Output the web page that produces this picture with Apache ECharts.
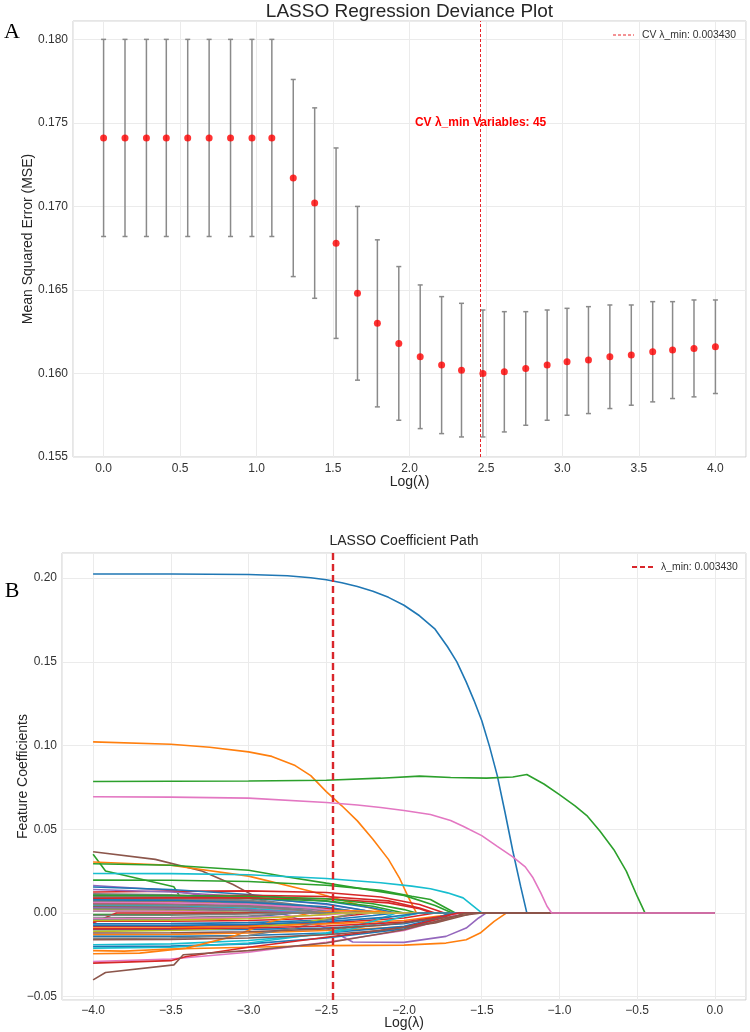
<!DOCTYPE html>
<html><head><meta charset="utf-8">
<script src="https://cdn.jsdelivr.net/npm/echarts@6/dist/echarts.min.js"></script>
<style>html,body{margin:0;padding:0;background:#fff}#c{width:750px;height:1032px}</style>
</head><body><div id="c"></div>
<script>
// ---------- Panel A data (CV deviance) ----------
const cvLogLambda = [0.00,0.14,0.28,0.41,0.55,0.69,0.83,0.97,1.10,1.24,1.38,1.52,1.66,1.79,1.93,2.07,2.21,2.34,2.48,2.62,2.76,2.90,3.03,3.17,3.31,3.45,3.59,3.72,3.86,4.00];
const cvMse = [0.1741,0.1741,0.1741,0.1741,0.1741,0.1741,0.1741,0.1741,0.1741,0.1717,0.1702,0.1678,0.1648,0.1630,0.1618,0.1610,0.1605,0.1602,0.1600,0.1601,0.1603,0.1605,0.1607,0.1608,0.1610,0.1611,0.1613,0.1614,0.1615,0.1616];
const cvErr = [0.0059,0.0059,0.0059,0.0059,0.0059,0.0059,0.0059,0.0059,0.0059,0.0059,0.0057,0.0057,0.0052,0.0050,0.0046,0.0043,0.0041,0.0040,0.0038,0.0036,0.0034,0.0033,0.0032,0.0032,0.0031,0.0030,0.0030,0.0029,0.0029,0.0028];
const lambdaMin = 0.003430;
const cvVariables = 45;
const cvTextY = 0.175;

// ---------- Panel B data (coefficient paths: [log(lambda), coefficient]) ----------
const pathBlue = [[-4,0.2025],[-3.5,0.2025],[-3.0,0.2022],[-2.75,0.2014],[-2.6,0.2002],[-2.5,0.1990],[-2.4,0.1972],[-2.3,0.1950],[-2.2,0.1922],[-2.1,0.1885],[-2.0,0.1838],[-1.9,0.1775],[-1.8,0.1695],[-1.72,0.1590],[-1.66,0.1500],[-1.6,0.1380],[-1.55,0.1270],[-1.5,0.1150],[-1.45,0.0995],[-1.4,0.0820],[-1.35,0.0600],[-1.3,0.0370],[-1.25,0.0160],[-1.21,0],[0,0]];
const pathOrange = [[-4,0.1022],[-3.5,0.1008],[-3.25,0.0990],[-3.0,0.0962],[-2.85,0.0935],[-2.7,0.0880],[-2.6,0.0820],[-2.5,0.0725],[-2.4,0.0640],[-2.3,0.0550],[-2.2,0.0440],[-2.1,0.0320],[-2.03,0.0210],[-1.97,0.0090],[-1.92,0],[0,0]];
const pathGreen = [[-4,0.0785],[-3.0,0.0788],[-2.5,0.0793],[-2.15,0.0805],[-1.9,0.0817],[-1.7,0.0809],[-1.47,0.0805],[-1.3,0.0812],[-1.21,0.0827],[-1.1,0.0770],[-1.0,0.0707],[-0.9,0.0640],[-0.82,0.0578],[-0.74,0.0490],[-0.65,0.0378],[-0.57,0.0250],[-0.5,0.0100],[-0.45,0],[0,0]];
const pathPink = [[-4,0.0694],[-3.5,0.0692],[-3.0,0.0686],[-2.5,0.0660],[-2.3,0.0645],[-2.15,0.0630],[-2.0,0.0612],[-1.83,0.0588],[-1.7,0.0552],[-1.62,0.0518],[-1.5,0.0462],[-1.4,0.0398],[-1.3,0.0335],[-1.22,0.0275],[-1.17,0.0210],[-1.12,0.0120],[-1.08,0.0040],[-1.05,0],[0,0]];

const upperPaths = [
  [[-4,0.0366],[-3.6,0.032],[-3.3,0.025],[-3.1,0.017],[-3.0,0.012],[-2.84,0.004],[-2.7,0],[0,0]],
  [[-4,0.035],[-3.92,0.025],[-3.48,0.0156],[-3.43,0.008],[-3.38,0.002],[-3.3,0],[0,0]],
  [[-4,0.0304],[-3.5,0.0285],[-3.0,0.022],[-2.6,0.013],[-2.3,0.005],[-2.1,0],[0,0]],
  [[-4,0.0294],[-3.5,0.0285],[-3.0,0.0255],[-2.75,0.0215],[-2.5,0.0178],[-2.0,0.0105],[-1.8,0.0045],[-1.69,0],[0,0]],
  [[-4,0.0236],[-3.5,0.0235],[-3.0,0.0228],[-2.5,0.0206],[-2.15,0.018],[-1.95,0.016],[-1.83,0.0145],[-1.72,0.0120],[-1.62,0.009],[-1.5,0],[0,0]],
  [[-4,0.0196],[-3.5,0.0195],[-3.0,0.0188],[-2.5,0.0165],[-2.15,0.0135],[-1.95,0.0100],[-1.83,0.008],[-1.67,0],[0,0]],
  [[-4,0.0164],[-3.5,0.0135],[-3.0,0.006],[-2.8,0],[-2.5,-0.009],[-2.33,-0.0174],[-2.0,-0.0176],[-1.73,-0.014],[-1.6,-0.009],[-1.52,-0.003],[-1.47,0],[0,0]],
  [[-4,0.0125],[-3.5,0.0130],[-3.0,0.0132],[-2.5,0.0122],[-2.15,0.0095],[-1.9,0.005],[-1.74,0],[0,0]],
  [[-4,0.0155],[-3.5,0.0140],[-3.0,0.0110],[-2.5,0.0070],[-2.2,0.0030],[-2.05,0],[0,0]],
  [[-4,0.0140],[-3.5,0.0125],[-3.0,0.0095],[-2.5,0.0050],[-2.25,0.0015],[-2.15,0],[0,0]],
  [[-4,0.0115],[-3.5,0.0108],[-3.0,0.0085],[-2.6,0.0040],[-2.35,0],[0,0]],
  [[-4,0.0105],[-3.5,0.0102],[-3.0,0.0090],[-2.5,0.0055],[-2.25,0.0015],[-2.15,0],[0,0]],
  [[-4,0.0100],[-3.5,0.0103],[-3.0,0.0105],[-2.5,0.0098],[-2.1,0.0072],[-1.9,0.0030],[-1.8,0],[0,0]],
  [[-4,0.0095],[-3.5,0.0088],[-3.0,0.0065],[-2.7,0.0030],[-2.5,0],[0,0]],
  [[-4,0.0090],[-3.5,0.0092],[-3.0,0.0088],[-2.5,0.0072],[-2.2,0.0040],[-2.0,0],[0,0]],
  [[-4,0.0085],[-3.5,0.0080],[-3.0,0.0065],[-2.6,0.0035],[-2.3,0],[0,0]],
  [[-4,0.0080],[-3.5,0.0076],[-3.0,0.0060],[-2.7,0.0030],[-2.45,0],[0,0]],
  [[-4,0.0075],[-3.5,0.0070],[-3.0,0.0052],[-2.75,0.0025],[-2.55,0],[0,0]],
  [[-4,0.0070],[-3.5,0.0068],[-3.0,0.0058],[-2.6,0.0030],[-2.35,0],[0,0]],
  [[-4,0.0065],[-3.5,0.0062],[-3.0,0.0050],[-2.6,0.0025],[-2.3,0],[0,0]],
  [[-4,0.0060],[-3.5,0.0055],[-3.0,0.0040],[-2.8,0.0020],[-2.6,0],[0,0]],
  [[-4,0.0055],[-3.5,0.0054],[-3.0,0.0048],[-2.5,0.0028],[-2.2,0],[0,0]],
  [[-4,0.0050],[-3.5,0.0047],[-3.0,0.0035],[-2.7,0.0015],[-2.5,0],[0,0]],
  [[-4,0.0045],[-3.5,0.0041],[-3.0,0.0028],[-2.6,0],[0,0]],
  [[-4,0.0040],[-3.5,0.0036],[-3.0,0.0022],[-2.7,0],[0,0]],
  [[-4,0.0035],[-3.5,0.0030],[-3.0,0.0015],[-2.8,0],[0,0]],
  [[-4,0.0030],[-3.5,0.0028],[-3.0,0.0018],[-2.6,0],[0,0]],
  [[-4,0.0020],[-3.5,0.0016],[-3.1,0.0005],[-2.9,0],[0,0]],
  [[-4,0.0010],[-3.5,0.0008],[-3.0,0],[0,0]],
  [[-4,0.0110],[-3.5,0.0098],[-3.0,0.0075],[-2.6,0.0035],[-2.4,0],[0,0]],
  [[-4,0.0086],[-3.5,0.0078],[-3.0,0.0058],[-2.6,0.0025],[-2.45,0],[0,0]],
  [[-4,0.0068],[-3.5,0.0062],[-3.0,0.0045],[-2.65,0.0018],[-2.5,0],[0,0]],
  [[-4,0.0101],[-3.5,0.0094],[-3.0,0.0072],[-2.6,0.0030],[-2.4,0],[0,0]],
  [[-4,0.0092],[-3.5,0.0086],[-3.0,0.0066],[-2.6,0.0028],[-2.42,0],[0,0]],
  [[-4,0.0078],[-3.5,0.0075],[-3.0,0.0064],[-2.5,0.0036],[-2.25,0],[0,0]],
  [[-4,0.0062],[-3.5,0.0060],[-3.0,0.0052],[-2.6,0.0030],[-2.3,0],[0,0]],
  [[-4,0.0088],[-3.5,0.0090],[-3.0,0.0091],[-2.5,0.0085],[-2.1,0.0060],[-1.9,0.0025],[-1.82,0],[0,0]],
  [[-4,0.0105],[-3.5,0.0104],[-3.0,0.0100],[-2.5,0.0085],[-2.2,0.0055],[-2.0,0.0020],[-1.92,0],[0,0]],
  [[-4,0.0052],[-3.5,0.0049],[-3.0,0.0038],[-2.7,0.0018],[-2.5,0],[0,0]],
  [[-4,0.0025],[-3.5,0.0022],[-3.0,0.0012],[-2.75,0],[0,0]],
  [[-4,0.0012],[-3.5,0.0010],[-3.2,0.0004],[-3.0,0],[0,0]]
];
const upperColors = [5,2,1,2,9,2,4,3,0,4,7,0,3,7,2,0,6,7,1,0,8,3,6,9,7,5,4,8,2,7,7,7,7,7,0,6,3,2,7,7,6];

const lowerPaths = [
  [[-4,-0.0010],[-3.5,-0.0008],[-3.0,0],[0,0]],
  [[-4,-0.0060],[-3.9,-0.0020],[-3.85,0],[0,0]],
  [[-4,-0.0040],[-3.5,-0.0038],[-3.0,-0.0025],[-2.7,0],[0,0]],
  [[-4,-0.0050],[-3.5,-0.0050],[-3.0,-0.0045],[-2.5,-0.0030],[-2.2,0],[0,0]],
  [[-4,-0.0065],[-3.5,-0.0064],[-3.0,-0.0058],[-2.5,-0.0042],[-2.2,-0.0015],[-2.05,0],[0,0]],
  [[-4,-0.0080],[-3.5,-0.0080],[-3.0,-0.0075],[-2.5,-0.0060],[-2.0,-0.0030],[-1.8,0],[0,0]],
  [[-4,-0.0090],[-3.5,-0.0088],[-3.0,-0.0080],[-2.5,-0.0065],[-2.0,-0.0045],[-1.75,-0.0015],[-1.65,0],[0,0]],
  [[-4,-0.0100],[-3.5,-0.0100],[-3.0,-0.0098],[-2.5,-0.0090],[-2.0,-0.0065],[-1.8,-0.0030],[-1.68,0],[0,0]],
  [[-4,-0.0110],[-3.5,-0.0105],[-3.0,-0.0090],[-2.6,-0.0050],[-2.3,0],[0,0]],
  [[-4,-0.0130],[-3.5,-0.0128],[-3.0,-0.0120],[-2.5,-0.0105],[-2.0,-0.0085],[-1.75,-0.0045],[-1.6,0],[0,0]],
  [[-4,-0.0140],[-3.5,-0.0140],[-3.0,-0.0135],[-2.5,-0.0120],[-2.0,-0.0080],[-1.8,-0.0035],[-1.7,0],[0,0]],
  [[-4,-0.0152],[-3.5,-0.0150],[-3.0,-0.0135],[-2.7,-0.0090],[-2.45,-0.0030],[-2.3,0],[0,0]],
  [[-4,-0.0190],[-3.5,-0.0185],[-3.0,-0.0165],[-2.5,-0.0125],[-2.2,-0.0070],[-2.0,-0.0020],[-1.9,0],[0,0]],
  [[-4,-0.0200],[-3.5,-0.0198],[-3.0,-0.0185],[-2.5,-0.0150],[-2.0,-0.0095],[-1.8,-0.0040],[-1.7,0],[0,0]],
  [[-4,-0.0210],[-3.5,-0.0205],[-3.0,-0.0180],[-2.5,-0.0120],[-2.2,-0.0050],[-2.05,0],[0,0]],
  [[-4,-0.0225],[-3.8,-0.0228],[-3.5,-0.0215],[-3.0,-0.0205],[-2.5,-0.0195],[-2.0,-0.0192],[-1.73,-0.0180],[-1.6,-0.0160],[-1.51,-0.0120],[-1.42,-0.0050],[-1.34,0],[0,0]],
  [[-4,-0.0244],[-3.7,-0.0240],[-3.4,-0.0210],[-3.1,-0.0140],[-2.85,-0.0050],[-2.6,0],[-2.4,0.0015],[-2.2,0.0010],[-2.05,0],[0,0]],
  [[-4,-0.0290],[-3.5,-0.0275],[-3.0,-0.0235],[-2.5,-0.0175],[-2.0,-0.0105],[-1.75,-0.0040],[-1.65,0],[0,0]],
  [[-4,-0.0300],[-3.5,-0.0285],[-3.4,-0.0260],[-3.0,-0.0205],[-2.5,-0.0145],[-2.0,-0.0085],[-1.75,-0.0030],[-1.68,0],[0,0]],
  [[-4,-0.0015],[-3.5,-0.0013],[-3.0,-0.0006],[-2.8,0],[0,0]],
  [[-4,-0.0030],[-3.5,-0.0028],[-3.0,-0.0018],[-2.7,0],[0,0]],
  [[-4,-0.0035],[-3.5,-0.0034],[-3.0,-0.0028],[-2.5,-0.0012],[-2.35,0],[0,0]],
  [[-4,-0.0045],[-3.5,-0.0043],[-3.0,-0.0035],[-2.6,-0.0015],[-2.4,0],[0,0]],
  [[-4,-0.0075],[-3.5,-0.0074],[-3.0,-0.0068],[-2.5,-0.0052],[-2.1,-0.0025],[-1.9,0],[0,0]],
  [[-4,-0.0095],[-3.5,-0.0094],[-3.0,-0.0090],[-2.5,-0.0078],[-2.0,-0.0055],[-1.75,-0.0020],[-1.65,0],[0,0]],
  [[-4,-0.0160],[-3.5,-0.0158],[-3.0,-0.0150],[-2.5,-0.0130],[-2.15,-0.0105],[-1.8,-0.0060],[-1.55,0],[0,0]],
  [[-4,-0.0400],[-3.92,-0.0356],[-3.48,-0.0310],[-3.42,-0.0250],[-3.0,-0.0225],[-2.5,-0.0180],[-2.0,-0.0100],[-1.75,-0.0040],[-1.6,0],[0,0]],
  [[-4,-0.0120],[-3.5,-0.0118],[-3.0,-0.0112],[-2.5,-0.0095],[-2.15,-0.0075],[-1.8,-0.0035],[-1.5,0],[0,0]]
];
const lowerColors = [2,3,0,3,0,3,1,0,8,1,0,7,9,0,9,1,1,6,3,7,7,6,8,0,3,5,5,5];

const tab10 = ['#1f77b4','#ff7f0e','#2ca02c','#d62728','#9467bd','#8c564b','#e377c2','#7f7f7f','#bcbd22','#17becf'];

// ---------- chart ----------
const FONT = '"Liberation Sans", Arial, sans-serif';
const TXT = '#262626';
const chart = echarts.init(document.getElementById('c'), null, {renderer: 'canvas'});

const cvLineX = -Math.log10(lambdaMin);
const errData = cvLogLambda.map((x, i) => [x, cvMse[i] - cvErr[i], cvMse[i] + cvErr[i]]);
const dotData = cvLogLambda.map((x, i) => [x, cvMse[i]]);

function fmt(step, dec) {
  return function (v) {
    const k = v / step;
    if (Math.abs(k - Math.round(k)) > 1e-6) return '';
    return v.toFixed(dec).replace('-', '\u2212');
  };
}

function lineSeries(data, color) {
  return {
    type: 'line', xAxisIndex: 1, yAxisIndex: 1, data: data,
    showSymbol: false, symbol: 'none', smooth: false,
    lineStyle: {width: 1.6, color: color}, itemStyle: {color: color},
    silent: true, animation: false
  };
}

const series = [
  {
    type: 'custom', xAxisIndex: 0, yAxisIndex: 0, data: errData, silent: true,
    encode: {x: 0, y: [1, 2]},
    renderItem: function (params, api) {
      const x = api.value(0);
      const lo = api.coord([x, api.value(1)]);
      const hi = api.coord([x, api.value(2)]);
      const st = {stroke: '#8a8a8a', lineWidth: 1.5};
      const cap = 2.5;
      return {type: 'group', children: [
        {type: 'line', shape: {x1: lo[0], y1: lo[1], x2: hi[0], y2: hi[1]}, style: st},
        {type: 'line', shape: {x1: lo[0] - cap, y1: lo[1], x2: lo[0] + cap, y2: lo[1]}, style: st},
        {type: 'line', shape: {x1: hi[0] - cap, y1: hi[1], x2: hi[0] + cap, y2: hi[1]}, style: st}
      ]};
    }
  },
  {
    type: 'scatter', xAxisIndex: 0, yAxisIndex: 0, data: dotData, symbolSize: 7, z: 4,
    itemStyle: {color: '#ff0000'}, silent: true,
    markLine: {
      silent: true, symbol: 'none', label: {show: false},
      lineStyle: {color: '#e8262b', width: 1, type: [3, 2]},
      data: [{xAxis: cvLineX}]
    }
  },
  lineSeries(pathBlue, tab10[0]),
  lineSeries(pathOrange, tab10[1]),
  lineSeries(pathGreen, tab10[2])
];
upperPaths.forEach((p, i) => series.push(lineSeries(p, tab10[upperColors[i]])));
lowerPaths.forEach((p, i) => series.push(lineSeries(p, tab10[lowerColors[i]])));
const pinkS = lineSeries(pathPink, tab10[6]);
pinkS.markLine = {
  silent: true, symbol: 'none', label: {show: false},
  lineStyle: {color: '#d9262b', width: 2.4, type: [7, 4]},
  data: [{xAxis: -cvLineX}]
};
series.push(pinkS);

const axisLabelBase = {fontSize: 12, color: '#333', fontFamily: FONT, showMinLabel: false, showMaxLabel: false};
const splitBase = {show: true, lineStyle: {color: '#ebebeb', width: 1}};
const nameStyle = {fontSize: 14, color: TXT, fontFamily: FONT};

const option = {
  animation: false,
  backgroundColor: '#ffffff',
  grid: [
    {left: 73, right: 4, top: 21, bottom: 575, show: true, borderColor: '#cccccc', borderWidth: 1},
    {left: 62, right: 4, top: 553, bottom: 32, show: true, borderColor: '#cccccc', borderWidth: 1}
  ],
  xAxis: [
    {type: 'value', gridIndex: 0, min: -0.2, max: 4.2, minInterval: 0.5, maxInterval: 0.5, splitNumber: 9,
     axisLine: {show: false}, axisTick: {show: false}, splitLine: splitBase,
     axisLabel: Object.assign({}, axisLabelBase, {margin: 6, formatter: fmt(0.5, 1)}),
     name: 'Log(λ)', nameLocation: 'middle', nameGap: 18, nameMoveOverlap: false, nameTextStyle: nameStyle},
    {type: 'value', gridIndex: 1, min: -4.2, max: 0.2, minInterval: 0.5, maxInterval: 0.5, splitNumber: 9,
     axisLine: {show: false}, axisTick: {show: false}, splitLine: splitBase,
     axisLabel: Object.assign({}, axisLabelBase, {margin: 5, formatter: fmt(0.5, 1)}),
     name: 'Log(λ)', nameLocation: 'middle', nameGap: 16, nameMoveOverlap: false, nameTextStyle: nameStyle}
  ],
  yAxis: [
    {type: 'value', gridIndex: 0, min: 0.155, max: 0.1811, interval: 0.005,
     axisLine: {show: false}, axisTick: {show: false}, splitLine: splitBase,
     axisLabel: Object.assign({}, axisLabelBase, {showMinLabel: true, margin: 5, formatter: fmt(0.005, 3)}),
     name: 'Mean Squared Error (MSE)', nameLocation: 'middle', nameGap: 38, nameMoveOverlap: false, nameTextStyle: nameStyle},
    {type: 'value', gridIndex: 1, min: -0.052, max: 0.215, minInterval: 0.05, maxInterval: 0.05, splitNumber: 5,
     axisLine: {show: false}, axisTick: {show: false}, splitLine: splitBase,
     axisLabel: Object.assign({}, axisLabelBase, {margin: 5, formatter: fmt(0.05, 2)}),
     name: 'Feature Coefficients', nameLocation: 'middle', nameGap: 32, nameMoveOverlap: false, nameTextStyle: nameStyle}
  ],
  series: series
};
chart.setOption(option);

// text anchored through the axes' scales
const cvTextPos = chart.convertToPixel({xAxisIndex: 0, yAxisIndex: 0}, [cvLineX, cvTextY]);
chart.setOption({
  graphic: [
    {type: 'text', z: 100, style: {text: 'LASSO Regression Deviance Plot', x: 409.5, y: 12, textAlign: 'center', textVerticalAlign: 'middle', font: '19px ' + FONT, fill: TXT}},
    {type: 'text', z: 100, style: {text: 'LASSO Coefficient Path', x: 404, y: 541, textAlign: 'center', textVerticalAlign: 'middle', font: '14px ' + FONT, fill: TXT}},
    {type: 'text', z: 100, style: {text: 'A', x: 12, y: 32, textAlign: 'center', textVerticalAlign: 'middle', font: '22px "Liberation Serif", "Times New Roman", serif', fill: '#000'}},
    {type: 'text', z: 100, style: {text: 'B', x: 12, y: 591, textAlign: 'center', textVerticalAlign: 'middle', font: '22px "Liberation Serif", "Times New Roman", serif', fill: '#000'}},
    {type: 'text', z: 100, style: {text: 'CV λ_min Variables: ' + cvVariables, x: cvTextPos[0], y: cvTextPos[1], textAlign: 'center', textVerticalAlign: 'middle', font: 'bold 12px ' + FONT, fill: '#ff0000'}},
    {type: 'line', z: 100, shape: {x1: 613, y1: 35, x2: 634, y2: 35}, style: {stroke: '#e8262b', lineWidth: 1, lineDash: [3, 2]}},
    {type: 'text', z: 100, style: {text: 'CV λ_min: ' + lambdaMin.toFixed(6), x: 642, y: 35, textVerticalAlign: 'middle', font: '10.4px ' + FONT, fill: '#333'}},
    {type: 'line', z: 100, shape: {x1: 632, y1: 567, x2: 654, y2: 567}, style: {stroke: '#d9262b', lineWidth: 2.2, lineDash: [5, 3]}},
    {type: 'text', z: 100, style: {text: 'λ_min: ' + lambdaMin.toFixed(6), x: 661, y: 567, textVerticalAlign: 'middle', font: '10.4px ' + FONT, fill: '#333'}}
  ]
});
</script>
</body></html>
